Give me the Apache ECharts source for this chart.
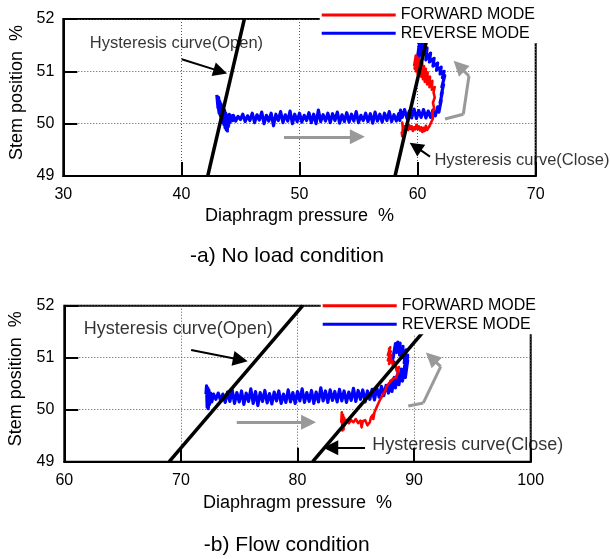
<!DOCTYPE html>
<html>
<head>
<meta charset="utf-8">
<script src="https://cdn.jsdelivr.net/npm/echarts@6/dist/echarts.min.js"></script>
<style>
  html, body { margin: 0; padding: 0; background: #fff; }
  #main { width: 610px; height: 559px; }
</style>
</head>
<body>
<div id="main"></div>
<script>
// data: [diaphragm pressure %, stem position %]
// -a) no load
var revNoLoad = [
  [43.0,50.55],[43.1,50.3],[43.05,50.45],[43.2,50.2],[43.15,50.5],[43.3,50.15],[43.25,50.42],[43.4,50.08],
  [43.35,50.38],[43.5,50.02],[43.45,50.34],[43.6,49.98],[43.55,50.3],[43.7,49.92],[43.65,50.26],[43.8,49.88],
  [43.75,50.2],[43.9,49.86],[43.85,50.16],[44.0,49.95],[43.95,50.14],[44.1,50.02],[44.05,50.18],[44.2,50.05],
  [44.25,50.15],[44.35,50.06],
  [44.4,50.16],[44.6,50.05],[44.8,50.14],[45.0,50.08],[45.2,50.18],[45.4,50.04],[45.6,50.15],[45.8,50.06],
  [46.0,50.2],[46.2,50.02],[46.4,50.17],[46.6,50.07],[46.8,50.22],[47.0,50.0],[47.2,50.16],[47.4,50.05],
  [47.6,50.2],[47.8,49.96],[48.0,50.18],[48.2,50.06],[48.4,50.23],[48.6,50.02],[48.8,50.17],[49.0,50.05],
  [49.2,50.24],[49.4,50.0],[49.6,50.18],[49.8,50.04],[50.0,50.2],[50.2,50.03],[50.4,50.16],[50.6,50.06],
  [50.8,50.21],[51.0,50.02],[51.2,50.18],[51.4,50.0],[51.6,50.26],[51.8,50.04],[52.0,50.17],[52.2,50.05],
  [52.4,50.2],[52.6,50.02],[52.8,50.19],[53.0,50.06],[53.2,50.22],[53.4,50.01],[53.6,50.17],[53.8,50.04],
  [54.0,50.21],[54.2,50.03],[54.4,50.18],[54.6,50.05],[54.8,50.23],[55.0,50.02],[55.2,50.16],[55.4,50.06],
  [55.6,50.2],[55.8,50.04],[56.0,50.19],[56.2,50.01],[56.4,50.22],[56.6,50.05],[56.8,50.18],[57.0,50.03],
  [57.2,50.2],[57.4,50.06],[57.6,50.23],[57.8,50.04],[58.0,50.17],[58.2,50.05],[58.4,50.19],
  [58.5,50.06],[58.55,50.26],[58.7,50.12],[58.9,50.27],[59.1,50.1],[59.3,50.24],[59.5,50.11],[59.7,50.28],
  [59.9,50.1],[60.1,50.25],[60.3,50.12],[60.5,50.27],[60.7,50.11],[60.9,50.24],[61.1,50.12],[61.3,50.26],
  [61.5,50.15],[61.7,50.32],[61.8,50.22],[62.0,50.45],[61.9,50.4],[62.1,50.6],[62.0,50.55],[62.2,50.75],
  [62.05,50.7],[62.3,50.92],[62.1,50.88],[62.25,51.0],[61.9,50.95],[62.0,51.08],[61.6,51.02],[61.7,51.16],
  [61.3,51.1],[61.4,51.25],[61.0,51.18],[61.1,51.35],[60.7,51.22],[60.8,51.45],[60.4,51.3],[60.5,51.6],
  [60.1,51.35],[60.2,51.6],[59.95,51.2],[60.3,51.45],[59.95,51.1],[60.4,51.2]
];
var fwdNoLoad = [
  [58.65,49.85],[58.7,49.76],[58.75,49.95],[58.7,50.02],[58.8,49.82],[58.9,49.95],[59.0,49.86],[59.1,49.93],
  [59.2,49.88],[59.3,49.97],[59.4,49.9],[59.5,49.95],[59.6,49.86],[59.7,49.93],[59.8,49.89],[59.9,49.98],
  [60.0,49.9],[60.1,49.95],[60.2,49.87],[60.3,49.93],[60.4,49.84],[60.5,49.92],[60.6,49.86],[60.7,49.96],
  [60.8,49.88],[60.9,49.85],[61.0,49.95],[61.1,49.92],[61.2,50.05],[61.3,50.1],[61.25,50.2],[61.4,50.3],
  [61.3,50.4],[61.45,50.5],[61.35,50.6],[61.45,50.7],[61.2,50.65],[61.25,50.82],[61.0,50.7],[61.05,50.9],
  [60.8,50.75],[60.85,50.98],[60.6,50.8],[60.7,51.05],[60.45,50.85],[60.55,51.1],[60.3,50.9],[60.4,51.15],
  [60.15,50.92],[60.25,51.2],[60.0,50.95],[60.1,51.25],[59.85,51.0],[59.95,51.28],[59.75,51.05],[59.85,51.3],
  [59.7,51.1]
];
// -b) flow
var revFlow = [
  [72.15,50.3],[72.2,50.46],[72.25,50.05],[72.3,50.42],[72.35,50.02],[72.4,50.38],[72.45,50.1],[72.55,50.32],
  [72.65,50.15],[72.8,50.3],[73.0,50.2],[73.2,50.32],[73.4,50.18],[73.6,50.3],[73.8,50.14],[74.0,50.34],
  [74.2,50.16],[74.4,50.38],[74.6,50.12],[74.8,50.33],[75.0,50.15],[75.2,50.36],[75.4,50.1],[75.6,50.32],
  [75.8,50.16],[76.0,50.4],[76.2,50.12],[76.4,50.35],[76.6,50.08],[76.8,50.33],[77.0,50.16],[77.2,50.37],
  [77.4,50.13],[77.6,50.31],[77.8,50.11],[78.0,50.34],[78.2,50.17],[78.4,50.36],[78.6,50.12],[78.8,50.3],
  [79.0,50.14],[79.2,50.38],[79.4,50.15],[79.6,50.33],[79.8,50.12],[80.0,50.35],[80.2,50.17],[80.4,50.4],
  [80.6,50.14],[80.8,50.33],[81.0,50.16],[81.2,50.37],[81.4,50.12],[81.6,50.34],[81.8,50.15],[82.0,50.42],
  [82.2,50.17],[82.4,50.36],[82.6,50.14],[82.8,50.38],[83.0,50.18],[83.2,50.35],[83.4,50.15],[83.6,50.39],
  [83.8,50.17],[84.0,50.36],[84.2,50.14],[84.4,50.34],[84.6,50.18],[84.8,50.41],[85.0,50.16],[85.2,50.37],
  [85.4,50.2],[85.6,50.38],[85.8,50.15],[86.0,50.36],[86.2,50.2],[86.4,50.39],[86.6,50.19],[86.8,50.42],
  [87.0,50.24],[87.2,50.45],[87.4,50.27],[87.6,50.47],[87.8,50.32],
  [88.0,50.55],[88.1,50.35],[88.3,50.62],[88.4,50.42],[88.6,50.7],[88.7,50.48],[88.9,50.78],[89.0,50.55],
  [89.2,50.85],[89.25,50.62],[89.45,50.95],[89.3,50.75],[89.45,51.05],[89.15,50.9],[89.3,51.15],[88.95,51.0],
  [89.05,51.22],[88.75,51.05],[88.8,51.28],[88.5,51.1],[88.6,51.3],[88.35,51.12],[88.4,51.27],[88.2,51.0],
  [88.35,51.2],[88.15,50.95],[88.4,50.85]
];
var fwdFlow = [
  [83.75,49.75],[83.8,49.95],[83.85,49.6],[83.9,49.9],[83.95,49.62],[84.0,49.85],[84.05,49.7],[84.2,49.8],
  [84.4,49.74],[84.6,49.8],[84.8,49.76],[85.0,49.82],[85.2,49.74],[85.4,49.79],[85.5,49.66],[85.6,49.78],
  [85.8,49.8],[86.0,49.7],[86.2,49.76],[86.3,49.85],[86.45,49.9],[86.5,49.82],[86.6,49.95],[86.75,49.98],
  [86.85,50.08],[87.0,50.1],[87.1,50.2],[87.25,50.2],[87.35,50.3],[87.5,50.35],[87.65,50.45],[87.8,50.48],
  [88.0,50.55],[88.2,50.6],[88.45,50.62],[88.6,50.7],[88.75,50.68],[88.7,50.82],[88.5,50.75],[88.4,50.9],
  [88.2,50.82],[88.1,50.95],[87.85,50.88],[88.05,51.05],[87.75,50.95],[88.0,51.12],[87.75,51.05],[87.95,51.2],
  [87.8,51.15]
];
// hysteresis curves
var openNoLoad = [[42.23,49],[45.33,52]];
var closeNoLoad = [[58.09,49],[61.18,52]];
var openFlow = [[69.0,49],[80.45,52]];
var closeFlow = [[81.3,49],[92.7,52]];
// annotation arrows
var blackArrowsNoLoad = [[[40.03,51.23],[43.3,51.0]], [[61.05,49.37],[59.82,49.56]]];
var blackArrowsFlow = [[[70.88,51.15],[75.1,50.96]], [[85.79,49.27],[82.85,49.27]]];
var grayArrowsNoLoad = [[[48.69,49.75],[54.9,49.75]], [[64.35,50.91],[63.5,51.1]]];
var grayPathNoLoad = [[[62.32,50.09],[63.87,50.18]], [[63.87,50.18],[64.35,50.91]]];
var grayArrowsFlow = [[[74.79,49.76],[80.95,49.76]], [[92.28,50.83],[91.48,51.0]]];
var grayPathFlow = [[[89.50,50.07],[90.79,50.13]], [[90.79,50.13],[92.28,50.83]]];
var notesNoLoad = [['Hysteresis curve(Open)', 32.2, 51.54], ['Hysteresis curve(Close)', 61.38, 49.29]];
var notesFlow = [['Hysteresis curve(Open)', 61.63, 51.55], ['Hysteresis curve(Close)', 86.36, 49.32]];
var legendNames = ['FORWARD MODE', 'REVERSE MODE'];

var FONT = 'Liberation Sans, Arial, sans-serif';
var chart = echarts.init(document.getElementById('main'));

function xAxisCfg(idx, min, max, gap) {
  return {
    type: 'value', gridIndex: idx, min: min, max: max, interval: 10,
    name: 'Diaphragm pressure  %', nameLocation: 'middle', nameGap: gap,
    nameTextStyle: { fontSize: 18, color: '#000', fontFamily: FONT },
    axisLine: { lineStyle: { color: '#000', width: 2 } },
    axisTick: { inside: true, length: 14, lineStyle: { color: '#000', width: 2 } },
    axisLabel: { fontSize: 16, color: '#000', fontFamily: FONT, margin: 11 },
    splitLine: { show: true, lineStyle: { color: '#555', width: 1, type: [1, 2] } }
  };
}
function yAxisCfg(idx, gap, lblMargin) {
  return {
    type: 'value', gridIndex: idx, min: 49, max: 52, interval: 1,
    name: 'Stem position  %', nameLocation: 'middle', nameGap: gap,
    nameTextStyle: { fontSize: 18, color: '#000', fontFamily: FONT, padding: [0, 0, 0, 10] },
    axisLine: { lineStyle: { color: '#000', width: 2 } },
    axisTick: { inside: true, length: 14, lineStyle: { color: '#000', width: 2 } },
    axisLabel: { fontSize: 16, color: '#000', fontFamily: FONT, margin: lblMargin },
    splitLine: { show: true, lineStyle: { color: '#555', width: 1, type: [1, 2] } }
  };
}
function dataLine(name, idx, data, color, width) {
  return {
    name: name, type: 'line', xAxisIndex: idx, yAxisIndex: idx, data: data,
    showSymbol: false, symbol: 'none', silent: true,
    itemStyle: { color: color }, lineStyle: { color: color, width: width, join: 'round' }
  };
}
function blackLine(idx, data) {
  return {
    type: 'line', xAxisIndex: idx, yAxisIndex: idx, data: data, symbol: 'none', silent: true,
    lineStyle: { color: '#000', width: 3.5 }, z: 3
  };
}
function arrows(idx, list, color, width, size) {
  return {
    type: 'lines', coordinateSystem: 'cartesian2d', xAxisIndex: idx, yAxisIndex: idx, silent: true,
    symbol: ['none', 'triangle'], symbolSize: size,
    lineStyle: { color: color, width: width, opacity: 1, curveness: 0 },
    data: list.map(function (c) { return { coords: c }; }), z: 3
  };
}
function segs(idx, list, color, width) {
  return {
    type: 'lines', coordinateSystem: 'cartesian2d', xAxisIndex: idx, yAxisIndex: idx, silent: true,
    symbol: 'none', lineStyle: { color: color, width: width, opacity: 1 },
    data: list.map(function (c) { return { coords: c }; }), z: 3
  };
}
function notes(idx, list, size) {
  return {
    type: 'scatter', xAxisIndex: idx, yAxisIndex: idx, silent: true, symbolSize: 1,
    itemStyle: { color: 'rgba(0,0,0,0)' },
    label: { show: true, position: 'right', distance: 0, fontSize: size, color: '#000', fontFamily: FONT,
      formatter: function (p) { return p.name; } },
    data: list.map(function (n) { return { name: n[0], value: [n[1], n[2]] }; }), z: 3
  };
}
function legendCfg(left, top, gap, padBottom) {
  return {
    data: legendNames, orient: 'vertical', left: left, top: top, icon: 'rect',
    itemWidth: 74, itemHeight: 3, itemGap: gap, selectedMode: false,
    padding: [7, 12, padBottom, 2], backgroundColor: '#fff',
    textStyle: { fontSize: 16, lineHeight: 16, color: '#000', fontFamily: FONT }
  };
}

chart.setOption({
  animation: false,
  backgroundColor: '#fff',
  textStyle: { fontFamily: FONT },
  grid: [
    { left: 63.3, top: 19, width: 472.4, height: 157, show: true, borderColor: '#000', borderWidth: 2,
      containLabel: false, outerBoundsMode: 'none' },
    { left: 64.3, top: 305.7, width: 466.4, height: 156, show: true, borderColor: '#000', borderWidth: 2,
      containLabel: false, outerBoundsMode: 'none' }
  ],
  xAxis: [xAxisCfg(0, 30, 70, 31), xAxisCfg(1, 60, 100, 32)],
  yAxis: [yAxisCfg(0, 31, 9), yAxisCfg(1, 39, 10)],
  legend: [legendCfg(319.7, 0, 2.3, 1.7), legendCfg(320.7, 290.7, 2.6, 2)],
  graphic: [
    { type: 'text', x: 287, y: 256.7, style: { text: '-a) No load condition', fontSize: 21, fontFamily: FONT, fill: '#000', align: 'center', verticalAlign: 'middle' } },
    { type: 'text', x: 286.7, y: 545, style: { text: '-b) Flow condition', fontSize: 21, fontFamily: FONT, fill: '#000', align: 'center', verticalAlign: 'middle' } }
  ],
  series: [
    dataLine('REVERSE MODE', 0, revNoLoad, '#0000ff', 3.2),
    dataLine('FORWARD MODE', 0, fwdNoLoad, '#ff0000', 2.6),
    blackLine(0, openNoLoad),
    blackLine(0, closeNoLoad),
    dataLine('REVERSE MODE', 1, revFlow, '#0000ff', 3.2),
    dataLine('FORWARD MODE', 1, fwdFlow, '#ff0000', 2.6),
    blackLine(1, openFlow),
    blackLine(1, closeFlow),
    arrows(0, blackArrowsNoLoad, '#000', 2, 14),
    arrows(0, grayArrowsNoLoad, '#999', 3, 15),
    segs(0, grayPathNoLoad, '#999', 3),
    arrows(1, blackArrowsFlow, '#000', 2, 15),
    arrows(1, grayArrowsFlow, '#999', 3, 15),
    segs(1, grayPathFlow, '#999', 3),
    notes(0, notesNoLoad, 16.5),
    notes(1, notesFlow, 18)
  ]
});
</script>
</body>
</html>
